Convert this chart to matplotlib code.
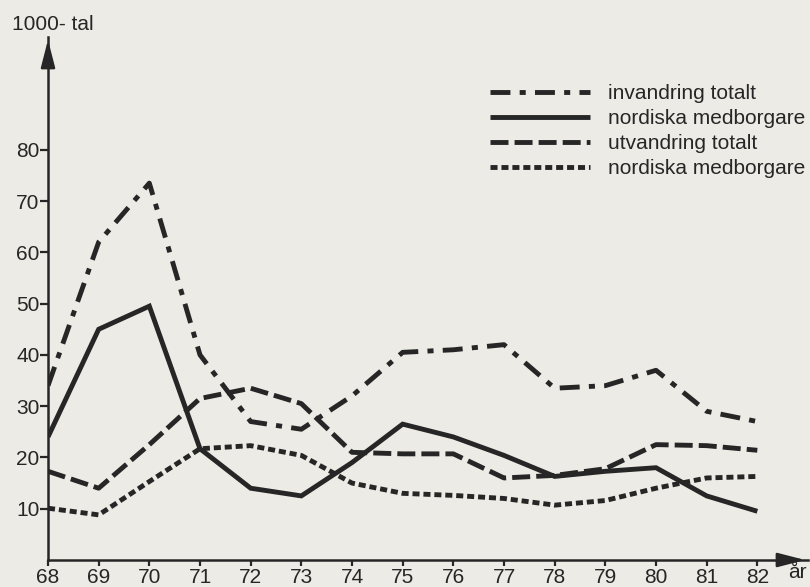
import matplotlib.pyplot as plt
import numpy as np

# in- och utvandring, 1000-tal
years = [68, 69, 70, 71, 72, 73, 74, 75, 76, 77, 78, 79, 80, 81, 82]
invandring = [34, 62, 73.5, 40, 27, 25.5, 32, 40.5, 41, 42, 33.5, 34, 37, 29, 27]
inv_nordiska = [24, 45, 49.5, 21.7, 14, 12.5, 19, 26.5, 24, 20.4, 16.3, 17.3, 18, 12.5, 9.5]
utvandring = [17.3, 14, 22.5, 31.5, 33.5, 30.5, 21, 20.7, 20.7, 16, 16.5, 17.8, 22.5, 22.3, 21.4]
utv_nordiska = [10.1, 8.8, 15.3, 21.7, 22.3, 20.4, 15, 13, 12.6, 12, 10.7, 11.6, 14, 16, 16.3]

labels = ['invandring totalt', 'nordiska medborgare',
          'utvandring totalt', 'nordiska medborgare']
yticks = [10, 20, 30, 40, 50, 60, 70, 80]

plt.rcParams['font.family'] = ['Liberation Sans', 'DejaVu Sans']
bg = '#ecebe5'
ink = '#262626'

fig = plt.figure(figsize=(8.1, 5.87), dpi=100, facecolor=bg)
ax = fig.add_axes([48/810, 27/587, 760/810, 523/587])
ax.set_facecolor(bg)

styles = [
    dict(dashes=(4.1, 1.9, 1.25, 1.9)),
    dict(linestyle='-'),
    dict(dashes=(3.7, 1.25)),
    dict(dashes=(1.45, 0.8)),
]
series = [invandring, inv_nordiska, utvandring, utv_nordiska]
for vals, st, lab in zip(series, styles, labels):
    ax.plot(years, vals, color=ink, lw=3.5, solid_capstyle='butt',
            dash_capstyle='butt', solid_joinstyle='miter', label=lab, **st)

ax.set_xlim(68, 83)
ax.set_ylim(0, 102)
ax.spines['top'].set_visible(False)
ax.spines['right'].set_visible(False)
for s in ['left', 'bottom']:
    ax.spines[s].set_linewidth(1.8)
    ax.spines[s].set_color(ink)

ax.set_yticks(yticks)
ax.set_xticks(years)
ax.tick_params(axis='y', direction='out', length=6, width=1.6, colors=ink,
               labelsize=15, pad=0)
ax.tick_params(axis='x', direction='out', length=4, width=1.6, colors=ink,
               labelsize=15, pad=2)

# arrows at axis ends
arrow = dict(arrowstyle='-|>,head_length=1.4,head_width=0.36',
             mutation_scale=12, color=ink, lw=1.8)
ax.annotate('', xy=(0, 1.0), xytext=(0, 0.94), xycoords='axes fraction',
            arrowprops=arrow)
ax.annotate('', xy=(1.0, 0), xytext=(0.96, 0), xycoords='axes fraction',
            arrowprops=arrow)

fig.text(12/810, 1 - 24/587, '1000- tal', fontsize=15, color=ink, va='center')
fig.text(788/810, 1 - 572/587, 'år', fontsize=15, color=ink, va='center')

leg = ax.legend(loc='upper left', bbox_to_anchor=(432/760, 0.93),
                frameon=False, fontsize=15, handlelength=4.8, handletextpad=0.85,
                labelspacing=0.29, borderpad=0)
for t in leg.get_texts():
    t.set_color(ink)

fig.savefig('out.png', dpi=100, facecolor=bg)
